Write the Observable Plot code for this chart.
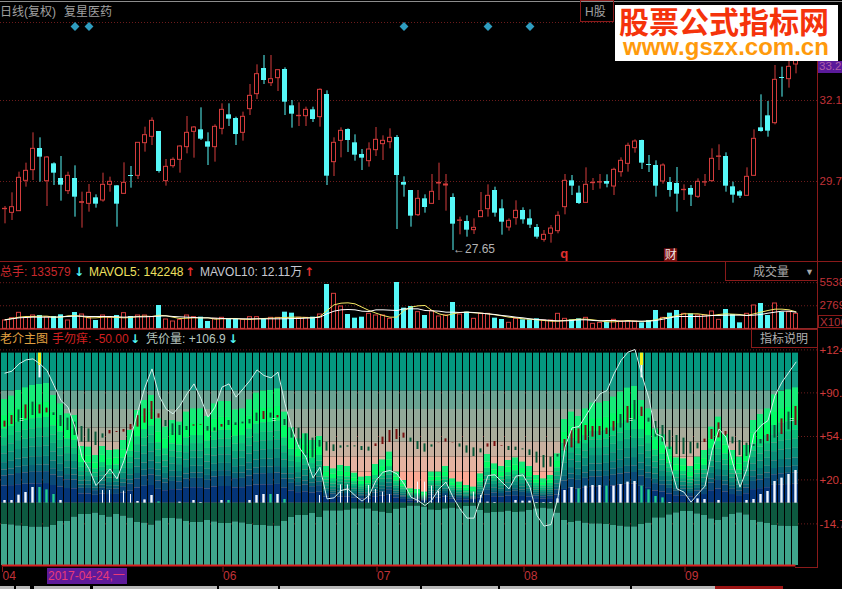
<!DOCTYPE html>
<html><head><meta charset="utf-8">
<script src="https://cdn.jsdelivr.net/npm/d3@7"></script>
<script src="https://cdn.jsdelivr.net/npm/@observablehq/plot@0.6"></script>
<style>
html,body{margin:0;padding:0;background:#000;width:842px;height:589px;overflow:hidden}
#page{position:relative;width:842px;height:589px;background:#000;overflow:hidden;font:12px "Liberation Sans","Noto Sans CJK SC",sans-serif}
#page>*{position:absolute}
.t{white-space:nowrap;line-height:14px;height:14px}
.a{white-space:nowrap;line-height:14px;height:14px;font:700 12px "DejaVu Sans"}
.ln{background:#8a1a1a}
.box{border:1px solid #8a1a1a;box-sizing:border-box}
.plot svg{display:block}
</style></head><body>
<div id="page">
<div class="plot" id="pPrice" style="left:0;top:0"></div>
<div class="plot" id="pVol" style="left:0;top:262px"></div>
<div class="plot" id="pInd" style="left:0;top:329px"></div>

<div style="left:0;top:1px;width:842px;height:1px;background:#8c8c8c"></div>
<div class="ln" style="left:0;top:261px;width:842px;height:1px"></div>
<div class="ln" style="left:0;top:329px;width:817px;height:1px"></div>
<div class="ln" style="left:817px;top:21px;width:1px;height:547px"></div>
<div class="ln" style="left:795px;top:567px;width:23px;height:1px"></div>

<div class="t" style="left:0;top:5px;color:#a0a0a0">日线(复权)</div>
<div class="t" style="left:64px;top:5px;color:#a0a0a0">复星医药</div>
<div class="box" style="left:580px;top:0;width:34px;height:22px"></div>
<div class="t" style="left:585px;top:5px;color:#a0a0a0">H股</div>

<div style="left:615px;top:5px;width:223px;height:56px;background:#fff"></div>
<div class="t" style="left:619px;top:6px;height:29px;line-height:29px;font-size:30px;font-weight:700;color:#f5330b;font-family:'Noto Sans CJK SC'">股票公式指标网</div>
<div class="t" style="left:623px;top:36px;height:21px;line-height:21px;font-size:24px;font-weight:700;color:#ff9a0c;font-family:'Liberation Sans'">www.gszx.com.cn</div>
<div style="left:818px;top:61px;width:24px;height:12px;background:#5a1a9a"></div>
<div class="t" style="left:819px;top:59px;color:#b060a8;font-size:11.5px">33.2</div>

<div class="t" style="left:0;top:265px;color:#c8282c">总手: 133579</div>
<div class="a" style="left:74px;top:265px;color:#52f5f5">↓</div>
<div class="t" style="left:89px;top:265px;color:#f0e060">MAVOL5: 142248</div>
<div class="a" style="left:185px;top:265px;color:#e03030">↑</div>
<div class="t" style="left:200px;top:265px;color:#c8c8d0">MAVOL10: 12.11万</div>
<div class="a" style="left:304px;top:265px;color:#e03030">↑</div>
<div class="box" style="left:725px;top:261px;width:93px;height:20px"></div>
<div class="t" style="left:753px;top:265px;color:#a8a8a8">成交量</div>
<div class="t" style="left:805px;top:265px;color:#a8a8a8;font-size:9px">▼</div>
<div class="box" style="left:818px;top:315px;width:30px;height:13px"></div>
<div class="t" style="left:820px;top:315px;color:#b03038;font-size:11.5px">X100</div>

<div class="t" style="left:0;top:332px;color:#e0a040">老介主图</div>
<div class="t" style="left:52px;top:332px;color:#d02020">手勿痒: -50.00</div>
<div class="a" style="left:130px;top:332px;color:#52f5f5">↓</div>
<div class="t" style="left:146px;top:332px;color:#b8c8c0">凭价量: +106.9</div>
<div class="a" style="left:228px;top:332px;color:#52f5f5">↓</div>
<div class="box" style="left:751px;top:329px;width:67px;height:19px"></div>
<div class="t" style="left:760px;top:332px;color:#b0b0b0">指标说明</div>

<div style="left:47px;top:568px;width:80px;height:16px;background:#5e1a9a"></div>
<div class="t" style="left:48px;top:569px;color:#e83a78">2017-04-24,一</div>

<div id="tabs"></div>
</div>
<script>
const priceHigh=[28.97,29.38,30.00,30.27,31.18,31.03,30.47,30.28,30.47,30.00,
30.19,29.40,29.63,29.32,29.97,29.85,29.60,30.28,30.17,30.88,
31.35,31.63,31.22,30.38,30.43,30.79,31.67,31.37,31.93,31.18,
31.42,32.05,32.05,31.65,31.80,32.63,33.22,33.50,33.50,33.07,
33.13,32.15,32.08,31.95,31.95,32.50,32.44,31.03,31.33,31.30,
31.12,30.68,30.88,31.34,31.09,31.30,31.10,29.86,29.45,29.45,
29.32,29.93,30.27,29.93,29.35,28.65,28.69,28.60,29.39,29.62,
29.55,29.17,28.60,29.14,28.93,28.87,28.43,28.25,28.40,28.81,
29.93,29.90,29.58,30.13,29.81,29.93,29.92,30.12,30.43,30.87,
30.97,30.96,30.50,30.34,30.25,29.84,30.14,29.62,29.60,29.80,
29.93,30.70,30.82,30.58,29.70,29.45,30.13,31.27,32.32,32.12,
33.20,33.15,33.45,33.65];
const priceLow=[28.45,28.55,28.83,29.55,29.75,29.70,28.97,29.60,29.13,29.33,
28.65,28.32,28.80,28.92,29.10,29.40,28.35,29.33,29.52,29.78,
30.60,30.80,29.97,29.58,30.12,29.97,30.55,30.42,30.95,30.20,
30.30,31.12,31.37,30.80,30.93,31.70,32.18,32.63,32.57,32.42,
31.70,31.32,31.37,31.37,31.49,31.35,29.60,29.87,30.43,30.59,
30.33,30.05,30.15,30.47,30.35,30.70,28.28,29.25,28.35,28.67,
28.77,29.03,29.15,28.83,27.65,28.12,28.05,28.13,28.65,28.65,
28.65,28.11,28.23,28.41,28.44,28.31,27.99,27.90,27.87,28.15,
28.72,29.30,29.03,29.07,29.45,29.49,29.53,29.30,29.85,30.00,
30.57,30.08,29.99,29.25,29.64,29.25,28.80,29.15,28.97,29.21,
29.57,29.70,30.05,29.40,29.07,29.21,29.28,29.88,31.20,31.05,
31.42,32.25,32.52,32.95];
const priceOpen=[28.89,28.78,28.83,29.74,30.06,30.71,29.73,30.25,29.81,29.43,
29.81,29.08,29.05,29.23,29.15,29.62,29.59,29.35,29.90,29.89,
30.87,31.06,31.22,29.73,30.18,30.37,30.75,31.21,31.27,30.91,
30.75,31.30,31.72,31.61,31.18,31.89,32.34,33.11,32.67,32.82,
33.08,31.99,31.68,31.68,31.87,31.65,32.33,30.30,30.94,31.28,
30.88,30.53,30.33,30.66,30.84,30.90,31.04,29.69,29.45,28.71,
29.20,29.05,29.66,29.60,29.24,28.54,28.52,28.26,28.65,28.89,
29.45,28.90,28.34,28.62,28.85,28.60,28.34,27.97,28.15,28.23,
28.95,29.74,29.37,29.08,29.67,29.69,29.72,29.57,30.00,30.25,
30.72,30.95,30.23,30.20,29.72,29.69,29.66,29.46,29.51,29.26,
29.69,29.73,30.46,30.47,29.56,29.41,29.29,29.89,31.33,31.69,
31.47,32.84,32.79,33.23];
const priceClose=[28.90,28.95,29.83,30.04,30.70,30.45,30.44,29.97,29.61,29.89,
29.25,29.10,29.38,29.04,29.62,29.71,29.04,29.68,29.89,30.88,
31.11,31.54,30.02,30.16,30.37,30.77,31.18,31.34,30.99,30.75,
31.36,31.87,31.59,31.13,31.66,32.29,32.94,32.75,32.79,33.06,
32.10,31.74,31.69,31.87,31.58,32.47,29.88,30.88,31.24,30.95,
30.51,30.42,30.68,30.97,30.94,31.03,29.90,29.61,28.68,29.20,
28.94,29.41,29.68,29.63,28.44,28.55,28.26,28.33,28.83,29.29,
28.77,28.50,28.54,28.84,28.57,28.41,28.05,28.12,28.31,28.69,
29.74,29.58,29.06,29.62,29.68,29.70,29.64,30.07,30.34,30.79,
30.92,30.27,30.21,29.58,30.20,29.45,29.34,29.47,29.31,29.71,
29.70,30.40,30.47,29.58,29.31,29.28,29.86,31.00,31.22,31.23,
32.77,32.83,33.16,33.45];
const signalSlots=[10,12,57,69,75];
const priceGrid=[34.49,32.15,29.72];
const priceTicks=[32.15,29.72];
const priceTickText=["32.1","29.7"];

const volume=[1000,1280,1920,1320,1600,1600,1400,1480,1680,1000,
1960,1720,1280,1000,1600,1320,1600,1880,1480,1600,
1600,1400,2800,1120,880,1080,1600,1400,1400,880,
1200,1320,1200,1200,1080,1400,1400,1200,1320,1320,
2000,1880,1320,1320,1400,1720,5320,4200,2680,1720,
1280,1400,1800,1600,1600,1200,5560,2480,2680,2000,
1600,2120,1480,1600,3160,1720,2000,1200,1800,1800,
1280,1120,720,1200,1080,1080,1200,1000,1000,1800,
1200,1080,1200,1320,600,720,800,1080,880,880,
880,720,1000,2200,1320,1880,2200,1800,1800,1600,
1600,2080,1080,2320,1720,720,1800,2800,3040,1600,
3040,2000,2000,1800];
const mavol5=[1080,1240,1400,1480,1480,1520,1520,1400,1400,1560,
1600,1480,1320,1320,1400,1400,1360,1320,1360,1480,
1520,1480,1640,1560,1400,1240,1280,1320,1320,1320,
1160,1200,1240,1240,1160,1120,1200,1240,1280,1320,
1360,1400,1400,1360,1320,1480,2200,2880,3080,3120,
3000,2600,2200,1880,1600,1400,1400,2200,2600,2760,
2800,2200,1800,1600,1800,1960,2000,1920,1880,1800,
1680,1560,1400,1320,1200,1160,1080,1000,920,920,
1000,1080,1160,1160,1080,960,840,840,920,1000,
920,880,960,1080,1320,1400,1600,1800,1800,1800,
1680,1600,1720,1800,1760,1720,1600,1800,2000,2200,
2360,2360,2280,2040];
const mavol10=[1080,1200,1320,1360,1400,1400,1400,1400,1440,1480,
1520,1520,1480,1480,1480,1480,1440,1400,1440,1440,
1440,1480,1520,1560,1480,1440,1400,1360,1320,1320,
1280,1240,1200,1200,1200,1200,1200,1200,1200,1200,
1200,1240,1240,1280,1320,1400,1800,2120,2280,2320,
2280,2120,2080,2280,2280,2240,2200,2400,2400,2400,
2200,2160,2120,2000,2000,1960,2000,1960,1880,1800,
1720,1600,1520,1400,1320,1200,1120,1080,1000,960,
960,1000,1080,1080,1000,960,1000,1000,920,920,
920,920,920,1000,1160,1320,1480,1480,1480,1480,
1520,1600,1600,1640,1640,1640,1600,1640,1720,1880,
2000,2120,2120,2000];
const volTicks=[5538,2769];
const volTickText=["5538","2769"];

const ribbonTop=[84.8,87.5,92,94.1,96,96.8,97.6,88,81.3,73.3,
72,47.2,46.7,40,47.2,44,44.5,52,60,76,
84,88,69.3,62.7,68,66.7,74.7,77.3,77.3,71.2,
81.3,83.2,83.2,76.5,77.3,84.5,89.9,91.5,92,93.3,
74.7,62.1,53.3,57.3,52,55.2,31.2,29.3,32,31.2,
25.9,22.7,23.2,32.8,36.5,42.7,26.7,20,13.3,12.8,
10.7,26.7,26.7,31.2,21.3,18.7,16,14.7,25.3,40.8,
33.3,31.2,36,38.1,34.7,31.2,24,21.3,24,41.3,
68.8,74.7,71.2,77.3,81.9,81.9,83.2,86.7,90.7,93.9,
95.2,84,77.3,61.3,56.5,46.7,38.1,37.3,31.2,38.7,
44,62.7,70.7,56.8,44,38.7,48,68,72.8,77.3,
88.5,91.2,92.5,94.1];
const lowerEdge=[-15.2,-15.5,-16.3,-16.8,-17.3,-17.3,-17.3,-16,-12.8,-12.8,
-9.3,-7.2,-7.2,-6.1,-8,-9.3,-7.2,-8.5,-10.1,-13.6,
-14.1,-15.7,-12.3,-10.4,-10.4,-10.7,-12.8,-13.6,-13.6,-12,
-13.1,-14.4,-14.4,-13.1,-13.9,-15.2,-16,-16,-16.5,-16.5,
-12.8,-9.6,-8,-8,-6.4,-9.6,-4.3,-4.3,-4.3,-3.7,
-2.7,-2.7,-2.7,-4.5,-5.3,-6.4,-2.9,-2.1,-0.5,-0.5,
-1.3,-3.5,-4,-2.7,-2.1,-2.7,-0.8,-0.5,-4,-6.1,
-5.6,-5.3,-4.5,-5.6,-5.1,-4,-2.7,-2.1,-2.7,-6.1,
-12,-13.6,-12.5,-14.1,-14.7,-14.7,-15.2,-16,-16.5,-17.1,
-17.1,-15.2,-14.1,-9.9,-9.9,-7.5,-5.9,-4.8,-4.8,-6.7,
-8,-10.7,-12,-9.3,-7.2,-5.9,-7.5,-12,-13.3,-14.4,
-16,-16.5,-16.8,-16.8];
const priceVolume=[105.9,107.5,113.3,116.5,117.3,113.3,108,96,84,78.7,
62.7,38.7,29.3,16,22.1,29.3,21.3,36,54.7,76,
94.7,109.3,88,77.3,73.3,80,89.3,97.3,85.3,70.7,
78.7,94.7,97.3,86.7,93.3,100,108.5,104,102.1,106.7,
81.3,61.3,46.7,38.7,22.1,30.7,5.3,6.1,12,13.3,
8,3.5,8,20,26.7,28,25.3,17.3,6.7,4,
0,4.5,13.3,18.7,6.7,-2.7,-10.1,-10.1,6.7,24,
24.5,18.7,13.3,23.5,24.5,14.7,-8,-16.5,-15.2,6.7,
46.7,62.1,63.2,72,81.3,89.3,92,105.3,116,122.7,
124.8,104,85.3,57.3,54.7,33.3,13.3,10.7,2.7,9.3,
15.5,44,61.3,54.7,33.3,14.7,29.3,57.3,64,68,
88,98.7,106.7,114.7];
const smallOpen=[62.7,64.8,76.5,69.3,82.7,73.3,74.1,74.1,72,69.9,
66.7,63.2,61.3,58.7,57.3,57.3,58.4,58.7,60.5,62.7,
65.9,68.8,69.9,68,65.3,64,63.2,63.5,64,63.2,
62.1,62.7,68,66.1,66.7,68.8,73.9,68.8,73.9,70.1,
68.8,61.9,61.9,57.3,53.9,52,50.7,48.5,47.7,47.7,
47.7,47.2,46.7,47.2,48.8,50.4,52.8,53.9,53.9,51.2,
49.3,48.5,49.9,50.7,50.1,49.3,47.7,46.1,45.3,46.7,
47.2,47.2,47.2,46.7,45.3,44.5,42.7,40,38.7,40.8,
43.5,46.1,49.3,52,54.7,56,56.8,59.5,72.8,65.9,
84,71.2,69.9,67.2,64,60,56,53.9,50.7,49.9,
50.4,52.8,54.1,55.5,54.7,52,49.9,48.8,52.8,51.2,
64,56.8,74.7,64];
const smallClose=[67.5,72,66.7,80.5,72,80.5,77.9,72,63.2,60,
56,50.7,50.7,48,53.9,60,59.2,60.8,64.8,72,
77.3,83.2,73.3,63.2,56,56,60,64.5,64.5,59.5,
59.5,64.8,64,64,65.3,65.3,67.2,75.2,69.9,72,
64,53.9,48,40,38.1,46.7,43.5,43.2,45.9,46.7,
46.9,44,43.5,49.3,54.7,60,60.8,57.9,50.7,44.8,
42.7,46.7,50.1,53.3,50.4,46.7,41.9,39.2,42.1,49.3,
51.2,47.7,44,44,44.5,40,33.9,30.1,30.7,38.7,
52.8,60,61.3,64,63.2,63.2,61.9,67.2,61.9,79.2,
68.5,78.7,66.7,54.7,50.7,44.8,40.8,40.8,41.3,45.3,
53.1,60.8,66.1,59.2,49.3,40,39.2,47.2,49.3,56.8,
53.9,69.3,60.5,79.2];
const barValue=[4,4,8.3,10.4,14.4,14.4,12.5,8.8,4,0,
0,0,0,0,12,12,0,11.5,8.8,3.2,
4.5,8,2.9,0,0,2.7,0,4,2.4,0,
0,4,4,0,0,4,8,8.8,8.8,8.8,
4.8,0,0,0,0,8,0,0,16.5,16.5,
0,0,16,12.8,10.7,8.8,0,0,0,18.7,
18.7,15.5,11.2,8,0,0,0,10.7,8,2.7,
2.4,0,0,4,3.5,3.5,2.4,2.4,2.4,5.3,
12,14.4,13.3,15.5,16,16,15.5,15.5,16.8,18.7,
19.2,15.5,12.5,7.2,6.1,2.4,0,0,0,5.3,
4.8,0,4,0,0,0,4,4.8,8.8,11.2,
19.2,21.9,24.8,28];
const tealBars=[5,6,7,22,32,38,40,82,86,91,92,93,94];
const thinBars=[14,15,17,18,45,48,49,52,53,54,55,59,60,61,62,63,67,68];
const baseValue=1.87, floorValue=-48;
const bgEdges=[121.9,106.7,91.5,76.8,62.1,50.7,38.7,26.7,1.87];
const bgColors=["#04987f","#149b86","#6aa392","#92a999","#a8ac9b","#c8b09f","#e4b2a0","#fba994"];
const ribbonShares=[0,.155,.283,.368,.445,.524,.609,.68,.737,.836,1];
const ribbonColors=["#17ea78","#03fb66","#0ad078","#0cb87a","#0ba27a","#0a8c78","#087676","#086276","#0a4a78","#043478","#022a7a"];
const lowerDark="#0d5a40", lowerLight="#3fa58c";
const alertSlots=[5,91];
const alertEdges=[121.9,112,102.1];
const equalMarks=[2.38,38.4,89.4,112.4];
const equalValue=68.5;
const indTicks=[124.5,90.1,55.2,20.5,-14.7];
const indTickText=["+124","+90.","+54.","+20.","-14.7"];
const monthSlots=[-0.5,31,53,74,97];
const monthText=["04","06","07","08","09"];

const RED="#d43c3c", CYAN="#56f8f8", GRID="#6e1c1c", LABEL="#c03238";
const slots=d3.range(114);
const xOpt={type:"linear",domain:[-4.5/7,(842-4.5)/7],range:[0,842],axis:null};
const up=i=>priceClose[i]>=priceOpen[i];
const upSlots=slots.filter(up), downSlots=slots.filter(i=>!up(i));
const frame={width:842,marginLeft:0,marginRight:25,marginTop:0,marginBottom:0,
  color:{type:"identity"},style:{background:"transparent",fontFamily:"Liberation Sans",fontSize:"12px",overflow:"hidden"}};
const rightAxis=(ticks,text,fill)=>Plot.axisY({anchor:"right",ticks,tickSize:0,tickPadding:2,
  tickFormat:d=>text[ticks.indexOf(d)],fill,fontSize:11.5,label:null});

// price panel
document.getElementById("pPrice").append(Plot.plot({...frame,height:262,
  x:xOpt,y:{domain:[27.29,35.15],range:[262,0]},
  marks:[
    Plot.ruleY(priceGrid,{x1:-0.64,x2:116.2,stroke:GRID,strokeDasharray:"1,2"}),
    Plot.ruleX(slots,{x:d=>d,y1:i=>priceLow[i],y2:i=>priceHigh[i],stroke:i=>up(i)?RED:CYAN}),
    Plot.rect(upSlots,{x1:i=>i-2/7,x2:i=>i+2/7,y1:i=>priceOpen[i],y2:i=>priceClose[i],fill:"#000",stroke:RED}),
    Plot.rect(downSlots,{x1:i=>i-2.5/7,x2:i=>i+2.5/7,y1:i=>priceOpen[i],y2:i=>Math.min(priceClose[i],priceOpen[i]-0.03),fill:CYAN}),
    Plot.dot(signalSlots,{x:d=>d,y:()=>34.37,symbol:"diamond2",r:4,fill:"#2f9dc0",stroke:"none"}),
    Plot.text(["←27.65"],{x:()=>64,y:()=>27.69,text:d=>d,textAnchor:"start",fill:"#b4b4b4",fontSize:12,fontFamily:"Liberation Sans"}),
    Plot.text(["q"],{x:()=>79.9,y:()=>27.55,text:d=>d,fill:"#e03030",fontSize:13,fontWeight:"bold",fontFamily:"Liberation Sans"}),
    Plot.rect(["财"],{x1:()=>94.2,x2:()=>96.1,y1:()=>27.7,y2:()=>27.3,fill:"#7a1010"}),
    Plot.text(["财"],{x:()=>95.1,y:()=>27.5,text:d=>d,fill:"#f0e0e0",fontSize:12,fontFamily:"Noto Sans CJK SC"}),
    rightAxis(priceTicks,priceTickText,LABEL)
  ]}));

// volume panel
const volUp=slots.filter(up), volDown=slots.filter(i=>!up(i));
document.getElementById("pVol").append(Plot.plot({...frame,height:67,
  x:xOpt,y:{domain:[0,7960],range:[66.33,0]},
  marks:[
    Plot.ruleY(volTicks,{x1:-0.64,x2:116.2,stroke:GRID,strokeDasharray:"1,2"}),
    Plot.rect(volDown,{x1:i=>i-2.5/7,x2:i=>i+2.5/7,y1:()=>0,y2:i=>volume[i],fill:CYAN}),
    Plot.rect(volUp,{x1:i=>i-2/7,x2:i=>i+2/7,y1:()=>0,y2:i=>volume[i],fill:"#000",stroke:RED}),
    Plot.ruleY([0],{x1:-0.64,x2:116.2,stroke:RED}),
    Plot.line(slots,{x:d=>d,y:i=>mavol5[i],stroke:"#f4e864",strokeWidth:1}),
    Plot.line(slots,{x:d=>d,y:i=>mavol10[i],stroke:"#ffffff",strokeWidth:1}),
    rightAxis(volTicks,volTickText,LABEL)
  ]}));

// indicator panel
const bgRows=slots.flatMap(i=>bgColors.map((c,k)=>({i,a:bgEdges[k],b:bgEdges[k+1],c})));
const ribbonRows=slots.flatMap(i=>ribbonColors.map((c,k)=>({i,c,
  a:ribbonTop[i]-(ribbonTop[i]-baseValue)*ribbonShares[k],
  b:ribbonTop[i]-(ribbonTop[i]-baseValue)*ribbonShares[k+1]})));
const lowRows=slots.flatMap(i=>[{i,a:baseValue,b:lowerEdge[i],c:lowerDark},{i,a:lowerEdge[i],b:floorValue,c:lowerLight}]);
const cell={x1:d=>d.i-3.5/7,x2:d=>d.i+2.5/7,y1:"a",y2:"b",fill:"c"};
document.getElementById("pInd").append(Plot.plot({...frame,height:260,marginBottom:22,
  x:xOpt,y:{domain:[-67.2,140.8],range:[260,0]},
  marks:[
    Plot.ruleY(indTicks,{x1:-0.64,x2:116.2,stroke:GRID,strokeDasharray:"1,2"}),
    Plot.rect(bgRows,cell),
    Plot.rect(ribbonRows,cell),
    Plot.rect(lowRows,cell),
    Plot.rect(slots.filter(i=>barValue[i]>0),{
      x1:i=>i-(thinBars.includes(i)?0.5:1.2)/7,x2:i=>i+(thinBars.includes(i)?0.5:1.2)/7,
      y1:()=>baseValue,y2:i=>barValue[i],fill:i=>tealBars.includes(i)?"#22cc90":"#f4f8ff"}),
    Plot.rect(slots,{x1:i=>i-1/7,x2:i=>i+1/7,y1:i=>smallOpen[i],y2:i=>smallClose[i],
      fill:i=>smallClose[i]>=smallOpen[i]?"#7a1212":"#0a5c3c"}),
    Plot.rect(alertSlots,{x1:i=>i-1.5/7,x2:i=>i+1.5/7,y1:()=>alertEdges[0],y2:()=>alertEdges[1],fill:"#f2f21e"}),
    Plot.rect(alertSlots,{x1:i=>i-1/7,x2:i=>i+1/7,y1:()=>alertEdges[1],y2:()=>alertEdges[2],fill:"#ffffff"}),
    Plot.text(equalMarks,{x:d=>d,y:()=>equalValue,text:()=>"=",fill:"#fff",fontSize:7,fontFamily:"Liberation Sans"}),
    Plot.line(slots,{x:d=>d,y:i=>priceVolume[i],stroke:"#d4f0ea",strokeWidth:1}),
    Plot.ruleY([floorValue],{x1:-0.4,x2:113,stroke:"#d81e1e",strokeWidth:2}),
    rightAxis(indTicks,indTickText,"#d03a3a"),
    Plot.axisX({anchor:"bottom",ticks:monthSlots,tickSize:5,tickPadding:-1,textAnchor:"start",dx:1,
      tickFormat:d=>monthText[monthSlots.indexOf(d)],fill:LABEL,stroke:"#8a1a1a",fontSize:12,label:null})
  ]}));

// tab strip along the window's bottom edge
const tabEdges=[[0,14,"#b8b8b8"],[16,30,"#b8b8b8"],[34,90,"#b8b8b8"],[93,217,"#b8b8b8"],[219,278,"#b8b8b8"],[280,420,"#b8b8b8"],[422,498,"#b8b8b8"],[500,630,"#b8b8b8"],[632,715,"#b8b8b8"],[715,783,"#9c1414"]];
for(const [a,b,c] of tabEdges){const d=document.createElement("div");
  d.style.cssText=`left:${a}px;top:586px;width:${b-a}px;height:3px;background:${c}`;
  document.getElementById("tabs").append(d);}
document.getElementById("tabs").style.cssText="left:0;top:0;width:842px;height:589px";
[...document.getElementById("tabs").children].forEach(d=>d.style.position="absolute");
</script>
</body></html>
